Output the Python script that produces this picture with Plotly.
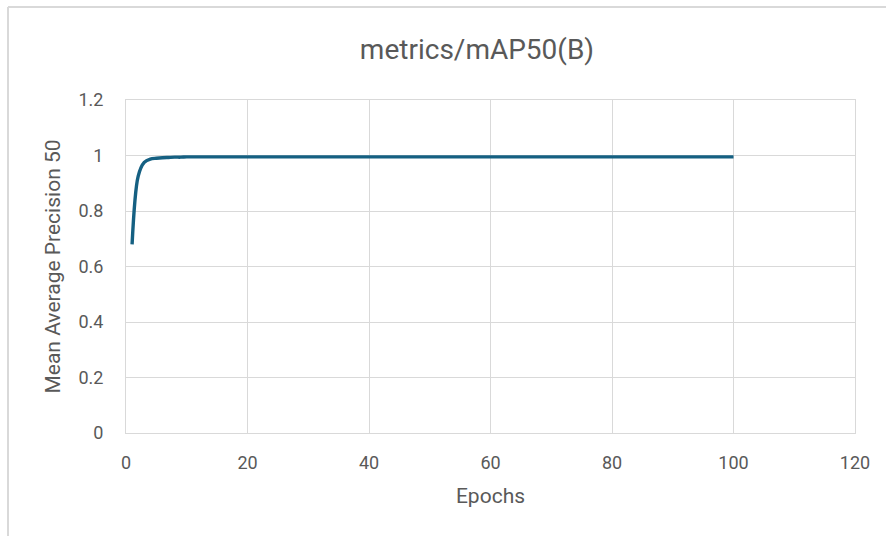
import plotly.graph_objects as go

# Training curve: box mAP@50 per epoch
epochs = list(range(1, 101))
map50 = [
    0.680, 0.925, 0.975, 0.987, 0.990, 0.992, 0.993, 0.994, 0.994, 0.995,
    0.995, 0.995, 0.995, 0.995, 0.995, 0.995, 0.995, 0.995, 0.995, 0.995,
    0.995, 0.995, 0.995, 0.995, 0.995, 0.995, 0.995, 0.995, 0.995, 0.995,
    0.995, 0.995, 0.995, 0.995, 0.995, 0.995, 0.995, 0.995, 0.995, 0.995,
    0.995, 0.995, 0.995, 0.995, 0.995, 0.995, 0.995, 0.995, 0.995, 0.995,
    0.995, 0.995, 0.995, 0.995, 0.995, 0.995, 0.995, 0.995, 0.995, 0.995,
    0.995, 0.995, 0.995, 0.995, 0.995, 0.995, 0.995, 0.995, 0.995, 0.995,
    0.995, 0.995, 0.995, 0.995, 0.995, 0.995, 0.995, 0.995, 0.995, 0.995,
    0.995, 0.995, 0.995, 0.995, 0.995, 0.995, 0.995, 0.995, 0.995, 0.995,
    0.995, 0.995, 0.995, 0.995, 0.995, 0.995, 0.995, 0.995, 0.995, 0.995,
]

x_ticks = [0, 20, 40, 60, 80, 100, 120]
y_ticks = [0, 0.2, 0.4, 0.6, 0.8, 1.0, 1.2]

TEXT = "#595959"
GRID = "#d9d9d9"
FONT = "Roboto"

W, H = 886, 536
L, R, T, B = 126, 31, 100, 103
pw, ph = W - L - R, H - T - B


def px_x(p):
    return (p - L) / pw


def px_y(p):
    return (H - B - p) / ph


fig = go.Figure(
    go.Scatter(
        x=epochs,
        y=map50,
        mode="lines",
        line=dict(color="#156082", width=3.4, shape="spline", smoothing=0.9),
        hoverinfo="x+y",
    )
)

fig.update_layout(
    width=W,
    height=H,
    margin=dict(l=L, r=R, t=T, b=B),
    paper_bgcolor="white",
    plot_bgcolor="white",
    showlegend=False,
    font=dict(family=FONT, color=TEXT),
    title=dict(
        text="metrics/mAP50(B)",
        xref="container",
        x=477 / W,
        xanchor="center",
        yref="container",
        y=1 - 49 / H,
        yanchor="middle",
        font=dict(size=28, color=TEXT, family=FONT),
    ),
    xaxis=dict(
        range=[0, 120],
        tickvals=x_ticks,
        showgrid=True,
        gridcolor=GRID,
        gridwidth=1,
        zeroline=False,
        showline=True,
        linecolor=GRID,
        mirror=True,
        ticks="",
        ticklabelstandoff=13,
        tickfont=dict(size=18, color=TEXT),
        title=dict(text="Epochs", font=dict(size=21, color=TEXT), standoff=16),
    ),
    yaxis=dict(
        range=[0, 1.2],
        tickvals=y_ticks,
        showgrid=True,
        gridcolor=GRID,
        gridwidth=1,
        zeroline=False,
        showline=True,
        linecolor=GRID,
        mirror=True,
        ticks="",
        ticklabelstandoff=18,
        tickfont=dict(size=18, color=TEXT),
        title=dict(text="Mean Average Precision 50", font=dict(size=21, color=TEXT), standoff=12),
    ),
    shapes=[
        # outer chart frame (left and top edges)
        dict(type="line", xref="paper", yref="paper",
             x0=px_x(8), x1=px_x(8), y0=px_y(7), y1=px_y(540),
             line=dict(color=GRID, width=2)),
        dict(type="line", xref="paper", yref="paper",
             x0=px_x(8), x1=px_x(890), y0=px_y(7), y1=px_y(7),
             line=dict(color=GRID, width=2)),
    ],
)

fig.write_html("out.html")
